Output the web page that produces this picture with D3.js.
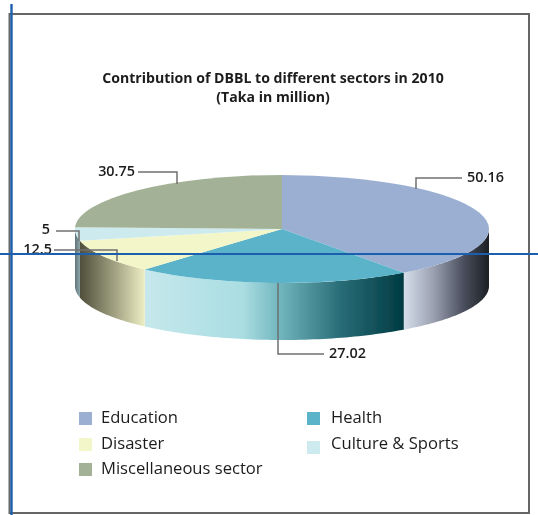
<!DOCTYPE html>
<html><head><meta charset="utf-8">
<script src="https://cdn.jsdelivr.net/npm/d3@7"></script>
<style>html,body{margin:0;padding:0;background:#fff}svg{display:block}text{font-family:"Open Sans",sans-serif;fill:#1c1c1c}</style>
</head><body><svg id="c" width="538" height="515"></svg>
<script>
const categories=["Education","Health","Disaster","Culture & Sports","Miscellaneous sector"];
const values=[50.16,27.02,12.5,5,30.75];
const labels=["50.16","27.02","12.5","5","30.75"];
const topColors=["#9bafd3","#5ab3c9","#f3f6c8","#cdebee","#a3b296"];
const sideStops=[
 [["0%","#d6deeb"],["35%","#9aa0b0"],["70%","#4a4f5e"],["100%","#1c1f24"]],
 [["0%","#c6e8ec"],["38%","#a9dde2"],["52%","#72b6be"],["75%","#2a6e78"],["100%","#003a42"]],
 [["0%","#4f4f3c"],["50%","#9c9c7e"],["100%","#eeeec4"]],
 [["0%","#5f7478"],["100%","#8fa7aa"]],
 [["0%","#777"],["100%","#777"]]
];
const leaders=[
 {text:[467,182],pts:[[462,178],[416,178],[416,189]],anchor:"start"},
 {text:[329,358],pts:[[324,354],[278,354],[278,283]],anchor:"start"},
 {text:[52,254],pts:[[54,250],[117,250],[117,261]],anchor:"end"},
 {text:[50,234],pts:[[56,231],[79,231],[79,241]],anchor:"end"},
 {text:[135,176],pts:[[138,172],[177,172],[177,184]],anchor:"end"}
];
const legendPos=[[79,423],[307,423],[79,449],[307,449],[79,474]];
const cx=282,cy=229,rx=207,ry=54,depth=57;

const svg=d3.select("#c");
const defs=svg.append("defs");
const f=defs.append("filter").attr("id","soft").attr("x","-5%").attr("y","-5%").attr("width","110%").attr("height","110%");
f.append("feGaussianBlur").attr("stdDeviation",0.5);
const root=svg.append("g").attr("filter","url(#soft)");

// frame
const frame=d3.path();frame.moveTo(9.5,14);frame.lineTo(529,14);frame.lineTo(529,513);frame.lineTo(9.5,513);frame.closePath();
root.append("path").attr("d",frame.toString()).attr("fill","none").attr("stroke","#666").attr("stroke-width",2);

const pie=d3.pie().sort(null).value(d=>d)(values);
const px=a=>cx+rx*Math.sin(a), py=a=>cy-ry*Math.cos(a);
const side=d3.area().x(a=>px(a)).y0(a=>py(a)).y1(a=>py(a)+depth);

// side walls
pie.forEach((s,i)=>{
  const lo=Math.max(s.startAngle,Math.PI/2), hi=Math.min(s.endAngle,Math.PI*1.5);
  if(hi<=lo)return;
  const xs=d3.range(0,61).map(k=>lo+(hi-lo)*k/60);
  const x0=d3.min(xs,px),x1=d3.max(xs,px);
  const g=defs.append("linearGradient").attr("id","g"+i).attr("gradientUnits","userSpaceOnUse")
    .attr("x1",x0).attr("x2",x1).attr("y1",0).attr("y2",0);
  sideStops[i].forEach(t=>g.append("stop").attr("offset",t[0]).attr("stop-color",t[1]));
  root.append("path").attr("d",side(xs)).attr("fill",`url(#g${i})`);
});

// top faces
const arc=d3.arc().innerRadius(0).outerRadius(rx);
const topFace=root.append("g").attr("transform",`translate(${cx},${cy}) scale(1,${ry/rx})`);
topFace.selectAll("path").data(pie).join("path").attr("d",arc).attr("fill",(d,i)=>topColors[i]);

// leaders
const line=d3.line();
leaders.forEach((l,i)=>{
  root.append("path").attr("d",line(l.pts)).attr("fill","none").attr("stroke","#707070").attr("stroke-width",1.5);
  root.append("text").attr("x",l.text[0]).attr("y",l.text[1]).attr("text-anchor",l.anchor)
    .attr("font-size",14.4).attr("font-weight",600).text(labels[i]);
});

// title
root.append("text").attr("x",273).attr("y",83).attr("text-anchor","middle").attr("font-size",14.1).attr("font-weight",700).text("Contribution of DBBL to different sectors in 2010");
root.append("text").attr("x",273).attr("y",102).attr("text-anchor","middle").attr("font-size",14.1).attr("font-weight",700).text("(Taka in million)");

// legend
categories.forEach((c,i)=>{
  const [x,y]=legendPos[i];
  root.append("rect").attr("x",x).attr("y",y-(i==3?8:11)).attr("width",13).attr("height",13).attr("fill",topColors[i]);
  root.append("text").attr("x",x+22+(i%2?2:0)).attr("y",y).attr("font-size",16.6).attr("font-weight",500).text(c);
});

// blue guide lines
root.append("line").attr("x1",11.5).attr("x2",11.5).attr("y1",4).attr("y2",515).attr("stroke","#1f5fae").attr("stroke-width",2.4);
root.append("line").attr("x1",0).attr("x2",538).attr("y1",254).attr("y2",254).attr("stroke","#1f5fae").attr("stroke-width",2);
</script></body></html>
